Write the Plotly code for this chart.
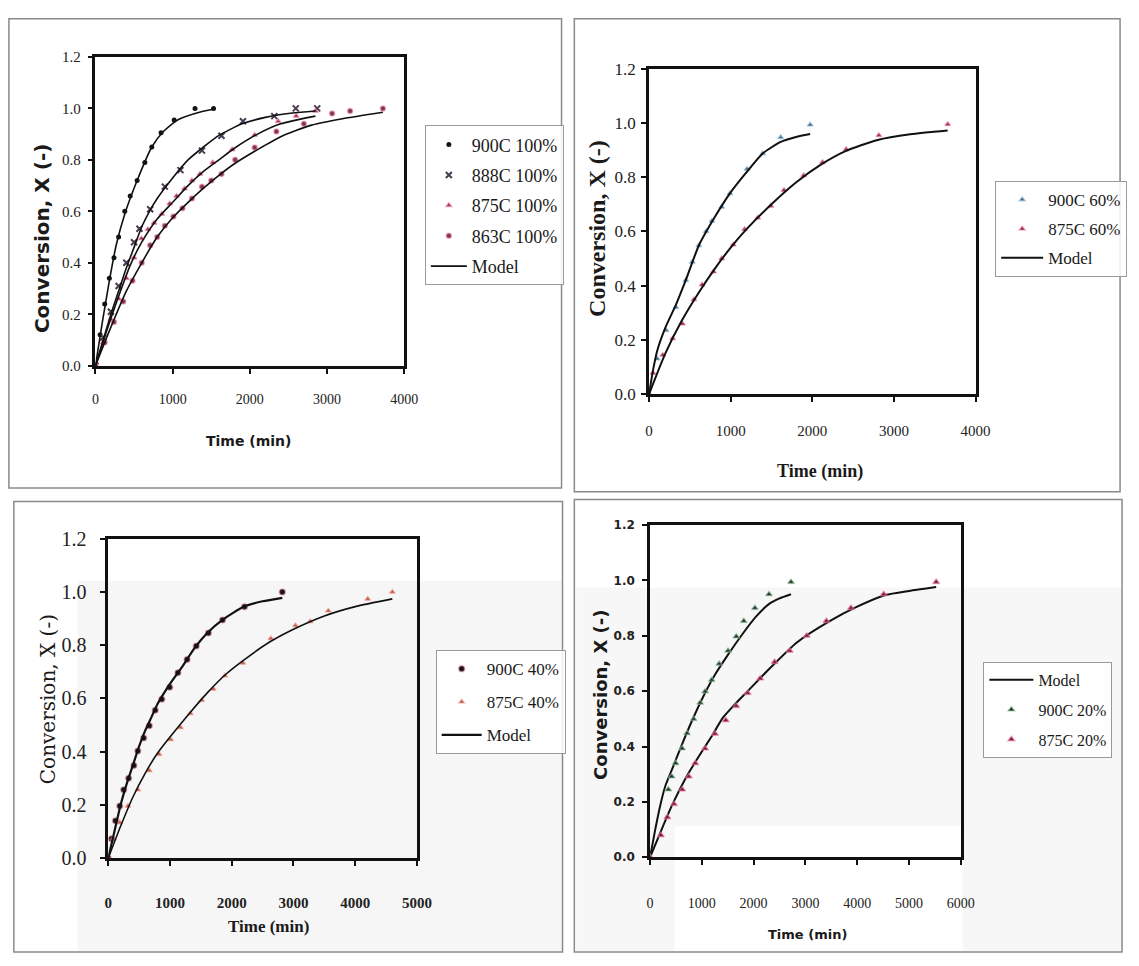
import plotly.graph_objects as go

W, H = 1139, 966

# ---------------- Panel 1: 100 % ----------------
t_900_100 = [0, 60, 120, 180, 240, 300, 380, 450, 540, 640, 730, 850, 1020, 1290, 1530]
x_900_100 = [0, 0.12, 0.24, 0.34, 0.42, 0.50, 0.60, 0.66, 0.72, 0.79, 0.85, 0.905, 0.955, 1.0, 1.0]
tm_900_100 = [0, 90, 180, 270, 380, 540, 730, 880, 1070, 1370, 1530]
xm_900_100 = [0, 0.17, 0.33, 0.47, 0.59, 0.72, 0.85, 0.91, 0.956, 0.987, 0.997]

t_888_100 = [0, 100, 200, 300, 400, 500, 570, 709, 899, 1101, 1380, 1633, 1911, 2317, 2595, 2873]
x_888_100 = [0, 0.11, 0.21, 0.31, 0.40, 0.48, 0.532, 0.608, 0.696, 0.76, 0.836, 0.894, 0.95, 0.97, 1.0, 1.0]
tm_888_100 = [0, 100, 200, 300, 400, 500, 600, 700, 800, 1000, 1200, 1400, 1600, 1900, 2200, 2550, 2850]
xm_888_100 = [0, 0.10, 0.20, 0.29, 0.38, 0.46, 0.54, 0.60, 0.65, 0.73, 0.80, 0.85, 0.895, 0.94, 0.965, 0.982, 0.99]

t_875_100 = [0, 100, 200, 300, 400, 500, 595, 680, 759, 860, 962, 1050, 1152, 1250, 1354, 1519, 1772, 2063, 2367, 2600, 2850]
x_875_100 = [0, 0.09, 0.18, 0.26, 0.34, 0.42, 0.494, 0.53, 0.555, 0.59, 0.63, 0.66, 0.688, 0.72, 0.745, 0.79, 0.84, 0.897, 0.95, 0.97, 0.99]
tm_875_100 = [0, 150, 300, 450, 600, 800, 1000, 1200, 1400, 1600, 1800, 2100, 2400, 2850]
xm_875_100 = [0, 0.14, 0.27, 0.39, 0.48, 0.57, 0.635, 0.70, 0.755, 0.80, 0.845, 0.90, 0.94, 0.97]

t_863_100 = [0, 120, 240, 360, 480, 600, 709, 800, 899, 1010, 1127, 1250, 1380, 1500, 1633, 1810, 2063, 2344, 2700, 3066, 3299, 3724]
x_863_100 = [0, 0.09, 0.17, 0.25, 0.33, 0.40, 0.468, 0.50, 0.544, 0.58, 0.612, 0.65, 0.696, 0.72, 0.745, 0.80, 0.848, 0.91, 0.94, 0.98, 0.99, 1.0]
tm_863_100 = [0, 200, 400, 600, 800, 1000, 1200, 1400, 1600, 1800, 2100, 2400, 2800, 3200, 3724]
xm_863_100 = [0, 0.15, 0.29, 0.40, 0.50, 0.575, 0.635, 0.69, 0.74, 0.785, 0.84, 0.89, 0.935, 0.96, 0.985]

# ---------------- Panel 2: 60 % ----------------
t_900_60 = [0, 100, 209, 329, 450, 530, 610, 700, 770, 890, 991, 1200, 1392, 1613, 1974]
x_900_60 = [0, 0.13, 0.235, 0.32, 0.42, 0.487, 0.548, 0.60, 0.638, 0.69, 0.74, 0.83, 0.887, 0.947, 0.993]
tm_900_60 = [0, 50, 100, 200, 330, 450, 610, 800, 991, 1200, 1392, 1613, 1800, 1974]
xm_900_60 = [0, 0.09, 0.16, 0.245, 0.33, 0.42, 0.548, 0.65, 0.74, 0.82, 0.887, 0.93, 0.948, 0.959]

t_875_60 = [0, 48, 168, 289, 409, 550, 650, 790, 890, 1031, 1171, 1332, 1492, 1653, 1894, 2126, 2415, 2816, 3659]
x_875_60 = [0, 0.078, 0.144, 0.205, 0.259, 0.349, 0.403, 0.451, 0.50, 0.551, 0.608, 0.65, 0.694, 0.752, 0.806, 0.855, 0.903, 0.954, 0.995]
tm_875_60 = [0, 200, 400, 600, 800, 1000, 1200, 1500, 1800, 2100, 2400, 2800, 3200, 3659]
xm_875_60 = [0, 0.15, 0.27, 0.37, 0.46, 0.54, 0.61, 0.70, 0.78, 0.845, 0.895, 0.937, 0.958, 0.972]

# ---------------- Panel 3: 40 % ----------------
t_900_40 = [0, 53, 117, 186, 250, 330, 415, 479, 574, 665, 761, 867, 995, 1128, 1277, 1426, 1622, 1851, 2207, 2819]
x_900_40 = [0, 0.073, 0.141, 0.196, 0.257, 0.30, 0.348, 0.403, 0.452, 0.498, 0.556, 0.597, 0.642, 0.697, 0.746, 0.797, 0.846, 0.895, 0.944, 1.0]
tm_900_40 = [0, 100, 200, 300, 400, 500, 600, 700, 800, 1000, 1200, 1400, 1600, 1850, 2200, 2500, 2819]
xm_900_40 = [0, 0.10, 0.20, 0.28, 0.35, 0.42, 0.48, 0.53, 0.58, 0.655, 0.72, 0.79, 0.845, 0.895, 0.945, 0.965, 0.978]

t_875_40 = [0, 80, 186, 319, 479, 665, 824, 1011, 1170, 1330, 1516, 1702, 1888, 2181, 2633, 3032, 3271, 3564, 4202, 4601]
x_875_40 = [0, 0.073, 0.134, 0.196, 0.257, 0.33, 0.391, 0.446, 0.491, 0.544, 0.593, 0.636, 0.685, 0.733, 0.825, 0.874, 0.889, 0.929, 0.974, 1.0]
tm_875_40 = [0, 200, 400, 600, 800, 1000, 1300, 1600, 1900, 2200, 2600, 3000, 3500, 4000, 4601]
xm_875_40 = [0, 0.12, 0.23, 0.32, 0.395, 0.455, 0.54, 0.62, 0.69, 0.745, 0.81, 0.86, 0.91, 0.945, 0.974]

# ---------------- Panel 4: 20 % ----------------
t_900_20 = [0, 354, 418, 494, 620, 715, 842, 968, 1063, 1190, 1335, 1506, 1665, 1810, 2025, 2297, 2722]
x_900_20 = [0, 0.245, 0.292, 0.34, 0.393, 0.448, 0.499, 0.558, 0.599, 0.64, 0.699, 0.746, 0.797, 0.853, 0.90, 0.95, 0.994]
tm_900_20 = [0, 100, 200, 300, 430, 600, 810, 1000, 1250, 1500, 1800, 2050, 2300, 2500, 2722]
xm_900_20 = [0, 0.10, 0.19, 0.26, 0.32, 0.40, 0.493, 0.57, 0.658, 0.73, 0.81, 0.87, 0.915, 0.935, 0.95]

t_875_20 = [0, 209, 335, 462, 620, 747, 873, 1063, 1253, 1462, 1665, 1886, 2127, 2405, 2696, 3025, 3405, 3880, 4513, 5525]
x_875_20 = [0, 0.08, 0.145, 0.192, 0.245, 0.292, 0.34, 0.393, 0.446, 0.495, 0.546, 0.593, 0.646, 0.705, 0.746, 0.80, 0.853, 0.90, 0.95, 0.994]
tm_875_20 = [0, 200, 430, 700, 937, 1200, 1411, 1650, 1886, 2300, 2835, 3468, 4000, 4544, 5000, 5525]
xm_875_20 = [0, 0.09, 0.19, 0.29, 0.363, 0.44, 0.505, 0.555, 0.60, 0.68, 0.776, 0.853, 0.905, 0.947, 0.962, 0.976]

SERIF = "Liberation Serif"
SANS = "DejaVu Sans"
PINK_HALO = "rgba(236,130,160,0.55)"


def px_x(p):
    return p / W


def px_y(p):
    return 1 - p / H


fig = go.Figure()


def markers(t, x, name, n, symbol, color, size=6, halo=None, halo_w=1.5, rank=1):
    fig.add_trace(go.Scatter(
        x=t, y=x, mode="markers", name=name,
        xaxis="x" if n == 1 else f"x{n}", yaxis="y" if n == 1 else f"y{n}",
        legend="legend" if n == 1 else f"legend{n}",
        legendgroup=f"{name}-{n}", legendrank=rank,
        marker=dict(symbol=symbol, color=color, size=size,
                    line=dict(color=halo or color, width=halo_w if halo else 0)),
    ))


def model(t, x, n, show, rank=1000, width=1.6):
    fig.add_trace(go.Scatter(
        x=t, y=x, mode="lines", name="Model",
        xaxis="x" if n == 1 else f"x{n}", yaxis="y" if n == 1 else f"y{n}",
        legend="legend" if n == 1 else f"legend{n}",
        legendgroup=f"model-{n}", legendrank=rank, showlegend=show,
        line=dict(color="#111111", width=width, shape="spline", smoothing=0.6),
    ))


# Panel 1
markers(t_900_100, x_900_100, "900C 100%", 1, "circle", "#151515", 5, rank=1)
markers(t_888_100, x_888_100, "888C 100%", 1, "x-thin", "#4a3a52", 6, halo="#4a3a52", halo_w=2, rank=2)
markers(t_875_100, x_875_100, "875C 100%", 1, "triangle-up", "#9a2448", 5, halo=PINK_HALO, rank=3)
markers(t_863_100, x_863_100, "863C 100%", 1, "circle", "#7e3458", 5, halo=PINK_HALO, rank=4)
model(tm_900_100, xm_900_100, 1, True)
model(tm_888_100, xm_888_100, 1, False)
model(tm_875_100, xm_875_100, 1, False)
model(tm_863_100, xm_863_100, 1, False)

# Panel 2
markers(t_900_60, x_900_60, "900C 60%", 2, "triangle-up", "#4d5560", 5, halo="rgba(140,195,230,0.6)", rank=1)
markers(t_875_60, x_875_60, "875C 60%", 2, "triangle-up", "#861f42", 5, halo=PINK_HALO, rank=2)
model(tm_900_60, xm_900_60, 2, True, width=2)
model(tm_875_60, xm_875_60, 2, False, width=2)

# Panel 3
markers(t_900_40, x_900_40, "900C 40%", 3, "circle", "#151515", 6, halo="rgba(240,150,165,0.5)", rank=1)
markers(t_875_40, x_875_40, "875C 40%", 3, "triangle-up", "#b0503c", 5, halo="rgba(245,160,150,0.55)", rank=2)
model(tm_900_40, xm_900_40, 3, True, width=2.2)
model(tm_875_40, xm_875_40, 3, False, width=1.6)

# Panel 4
model(tm_900_20, xm_900_20, 4, True, rank=1, width=2)
model(tm_875_20, xm_875_20, 4, False, rank=1, width=2)
markers(t_900_20, x_900_20, "900C 20%", 4, "triangle-up", "#22352b", 6, halo="rgba(160,205,165,0.5)", rank=2)
markers(t_875_20, x_875_20, "875C 20%", 4, "triangle-up", "#7a1a3c", 6, halo=PINK_HALO, rank=3)

# Plot-area geometry of each panel (pixels: left, right, top, bottom)
panels = {
    1: dict(box=(93, 407, 47, 363), xmax=4000, xfont=dict(family=SERIF, size=14, color="#222"),
            yfont=dict(family=SERIF, size=15, color="#222"), xstand=14, ystand=4),
    2: dict(box=(656, 988, 59, 392), xmax=4000, xfont=dict(family=SERIF, size=15, color="#222"),
            yfont=dict(family=SERIF, size=17, color="#222"), xstand=16, ystand=2),
    3: dict(box=(106, 420, 540, 867), xmax=5000, xfont=dict(family=SERIF, size=15, color="#222", weight="bold"),
            yfont=dict(family=SERIF, size=20, color="#222"), xstand=24, ystand=10),
    4: dict(box=(657, 973, 526, 866), xmax=6000, xfont=dict(family=SERIF, size=14, color="#222"),
            yfont=dict(family=SANS, size=12, color="#222", weight="bold"), xstand=26, ystand=5),
}

layout = dict(
    width=W, height=H, autosize=False,
    margin=dict(l=0, r=0, t=0, b=0),
    paper_bgcolor="#ffffff", plot_bgcolor="rgba(0,0,0,0)",
    showlegend=True,
)

for n, p in panels.items():
    l, r, t, b = p["box"]
    sx = "" if n == 1 else str(n)
    layout[f"xaxis{sx}"] = dict(
        domain=[px_x(l), px_x(r)], anchor=f"y{sx}", range=[0, p["xmax"]], dtick=1000,
        showline=True, linecolor="#111", linewidth=2.6, mirror=True,
        ticks="outside", ticklen=5, tickwidth=1.6, tickcolor="#111",
        showgrid=False, zeroline=False, tickfont=p["xfont"], ticklabelstandoff=p["xstand"],
    )
    layout[f"yaxis{sx}"] = dict(
        domain=[px_y(b), px_y(t)], anchor=f"x{sx}", range=[0, 1.2], dtick=0.2, tickformat=".1f",
        showline=True, linecolor="#111", linewidth=2.6, mirror=True,
        ticks="outside", ticklen=5, tickwidth=1.6, tickcolor="#111",
        showgrid=False, zeroline=False, tickfont=p["yfont"], ticklabelstandoff=p["ystand"],
    )


def legend_at(x, y, size, gap, itemwidth=36):
    return dict(
        x=px_x(x), y=px_y(y), xanchor="left", yanchor="top",
        bgcolor="rgba(255,255,255,0.85)", bordercolor="#9a9a9a", borderwidth=1,
        traceorder="grouped", tracegroupgap=gap, itemwidth=itemwidth,
        font=dict(family=SERIF, size=size, color="#1a1a1a"),
    )


layout["legend"] = legend_at(428, 117, 18, 4)
layout["legend2"] = legend_at(1008, 174, 17, 4, 42)
layout["legend3"] = legend_at(439, 654, 17, 8, 40)
layout["legend4"] = legend_at(996, 666, 16, 6, 44)

# Light scan tone behind parts of the lower panels
shapes = [
    dict(type="rect", xref="paper", yref="paper", x0=px_x(75), x1=px_x(568), y0=px_y(962), y1=px_y(583),
         fillcolor="#f6f6f6", line=dict(width=0), layer="below"),
    dict(type="rect", xref="paper", yref="paper", x0=px_x(582), x1=px_x(1137), y0=px_y(962), y1=px_y(590),
         fillcolor="#f7f7f7", line=dict(width=0), layer="below"),
    dict(type="rect", xref="paper", yref="paper", x0=px_x(682), x1=px_x(975), y0=px_y(962), y1=px_y(834),
         fillcolor="#ffffff", line=dict(width=0), layer="below"),
]
# Panel frames
for (l, t, r, b) in [(5, 8, 567, 488), (580, 8, 1135, 492), (10, 502, 568, 963), (580, 500, 1137, 963)]:
    shapes.append(dict(type="rect", xref="paper", yref="paper", x0=px_x(l), x1=px_x(r), y0=px_y(b), y1=px_y(t),
                       line=dict(color="#8a8a8a", width=1.5), fillcolor="rgba(0,0,0,0)", layer="below"))
layout["shapes"] = shapes

# Axis titles
ann = []
ytitles = [
    (38, 233, dict(family=SANS, size=20, color="#1a1a1a"), "<b>Conversion, X (-)</b>"),
    (603, 222, dict(family=SERIF, size=24, color="#1a1a1a"), "<b>Conversion, X (-)</b>"),
    (45, 704, dict(family="DejaVu Serif", size=20, color="#1a1a1a"), "Conversion, X (-)"),
    (606, 700, dict(family=SANS, size=18, color="#1a1a1a"), "<b>Conversion, X (-)</b>"),
]
for x, y, f, txt in ytitles:
    ann.append(dict(x=px_x(x), y=px_y(y), xref="paper", yref="paper", text=txt, textangle=-90,
                    showarrow=False, font=f, xanchor="center", yanchor="middle"))
xtitles = [
    (249, 440, dict(family=SANS, size=14, color="#1a1a1a")),
    (830, 471, dict(family=SERIF, size=18, color="#1a1a1a")),
    (269, 937, dict(family=SERIF, size=17, color="#1a1a1a")),
    (817, 945, dict(family=SANS, size=13, color="#1a1a1a")),
]
for x, y, f in xtitles:
    ann.append(dict(x=px_x(x), y=px_y(y), xref="paper", yref="paper", text="<b>Time (min)</b>",
                    showarrow=False, font=f, xanchor="center", yanchor="middle"))
layout["annotations"] = ann

fig.update_layout(**layout)
fig.write_html("out.html")
